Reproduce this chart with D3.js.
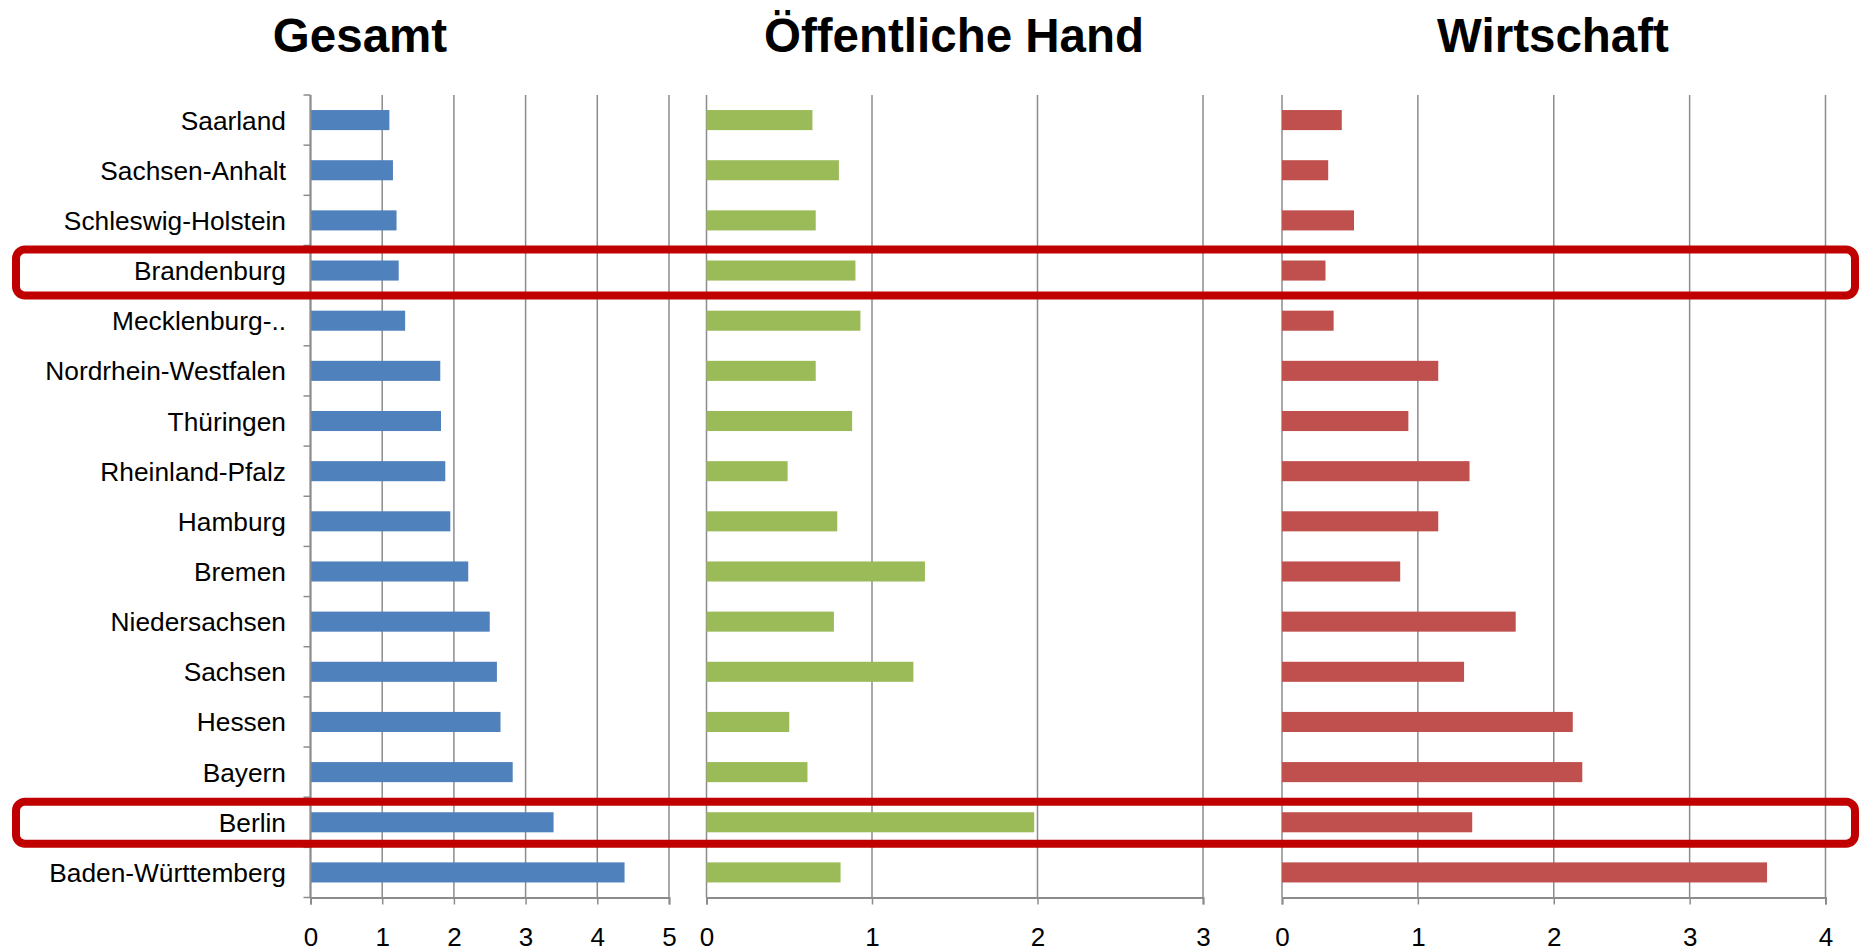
<!DOCTYPE html>
<html>
<head>
<meta charset="utf-8">
<script src="https://cdn.jsdelivr.net/npm/d3@7"></script>
<style>
  html, body { margin: 0; padding: 0; background: #ffffff; }
  svg { display: block; }
  text { font-family: "Liberation Sans", Arial, sans-serif; fill: #000; }
</style>
</head>
<body>
<svg id="chart" width="1859" height="951"></svg>
<script>
// ---- data ----
const categories = ["Saarland", "Sachsen-Anhalt", "Schleswig-Holstein", "Brandenburg", "Mecklenburg-..",
  "Nordrhein-Westfalen", "Thüringen", "Rheinland-Pfalz", "Hamburg", "Bremen", "Niedersachsen",
  "Sachsen", "Hessen", "Bayern", "Berlin", "Baden-Württemberg"];
const gesamtValues = [1.10, 1.15, 1.20, 1.23, 1.32, 1.81, 1.82, 1.88, 1.95, 2.20, 2.50, 2.60, 2.65, 2.82, 3.39, 4.38];
const oeffentlichValues = [0.64, 0.80, 0.66, 0.90, 0.93, 0.66, 0.88, 0.49, 0.79, 1.32, 0.77, 1.25, 0.50, 0.61, 1.98, 0.81];
const wirtschaftValues = [0.44, 0.34, 0.53, 0.32, 0.38, 1.15, 0.93, 1.38, 1.15, 0.87, 1.72, 1.34, 2.14, 2.21, 1.40, 3.57];
const panelTitles = ["Gesamt", "Öffentliche Hand", "Wirtschaft"];
const gesamtTicks = [0, 1, 2, 3, 4, 5];
const oeffentlichTicks = [0, 1, 2, 3];
const wirtschaftTicks = [0, 1, 2, 3, 4];
const highlighted = ["Brandenburg", "Berlin"];

// ---- layout ----
const svg = d3.select("#chart");
const plotTop = 95, plotBottom = 897.5;
const y = d3.scaleBand().domain(categories).range([plotTop, plotBottom]).padding(0);
const barFrac = 0.4;
const gridColor = "#8c8c8c";

const panels = [
  { title: panelTitles[0], values: gesamtValues, ticks: gesamtTicks, range: [310.5, 669], color: "#4F81BD", titleX: 360, catAxis: true },
  { title: panelTitles[1], values: oeffentlichValues, ticks: oeffentlichTicks, range: [706.5, 1203], color: "#9BBB59", titleX: 954 },
  { title: panelTitles[2], values: wirtschaftValues, ticks: wirtschaftTicks, range: [1282, 1825.5], color: "#C0504D", titleX: 1553 }
];

panels.forEach(p => {
  const x = d3.scaleLinear().domain([0, d3.max(p.ticks)]).range(p.range);
  const g = svg.append("g");

  // title
  g.append("text")
    .attr("x", p.titleX).attr("y", 52)
    .attr("text-anchor", "middle")
    .style("font-size", "47.5px").style("font-weight", "bold")
    .text(p.title);

  // gridlines
  g.append("g").selectAll("line").data(p.ticks).join("line")
    .attr("x1", d => x(d)).attr("x2", d => x(d))
    .attr("y1", plotTop).attr("y2", plotBottom)
    .attr("stroke", gridColor).attr("stroke-width", 1.5);

  // bars
  g.append("g").selectAll("rect").data(categories).join("rect")
    .attr("x", x(0))
    .attr("y", d => y(d) + y.bandwidth() * (1 - barFrac) / 2)
    .attr("height", y.bandwidth() * barFrac)
    .attr("width", (d, i) => x(p.values[i]) - x(0))
    .attr("fill", p.color);

  // x axis
  const axis = d3.axisBottom(x).tickValues(p.ticks).tickFormat(d3.format("d"))
    .tickSize(7).tickSizeOuter(7).tickPadding(23);
  const ax = g.append("g").attr("transform", `translate(0,${plotBottom})`).call(axis);
  ax.select(".domain").attr("stroke", gridColor).attr("stroke-width", 2);
  ax.selectAll(".tick line").attr("stroke", gridColor).attr("stroke-width", 1.5);
  ax.selectAll(".tick text")
    .style("font-size", "26px")
    .style("font-family", "'Liberation Sans', Arial, sans-serif")
    .attr("fill", "#000");

  if (p.catAxis) {
    g.append("line").attr("x1", x(0)).attr("x2", x(0)).attr("y1", plotTop).attr("y2", plotBottom)
      .attr("stroke", gridColor).attr("stroke-width", 2);
    const bounds = categories.map(c => y(c)).concat([plotBottom]);
    g.append("g").selectAll("line").data(bounds).join("line")
      .attr("x1", x(0) - 7).attr("x2", x(0))
      .attr("y1", d => d).attr("y2", d => d)
      .attr("stroke", gridColor).attr("stroke-width", 1.5);
    g.append("g").selectAll("text").data(categories).join("text")
      .attr("x", 286)
      .attr("y", d => y(d) + y.bandwidth() / 2 + 9.5)
      .attr("text-anchor", "end")
      .style("font-size", "26.3px")
      .text(d => d);
  }
});

// highlight boxes
const boxH = { "Brandenburg": 46, "Berlin": 42 };
const boxOffset = { "Brandenburg": 2, "Berlin": 0.5 };
svg.append("g").selectAll("rect").data(highlighted).join("rect")
  .attr("x", 16)
  .attr("width", 1855 - 16)
  .attr("y", d => y(d) + y.bandwidth() / 2 + boxOffset[d] - boxH[d] / 2)
  .attr("height", d => boxH[d])
  .attr("rx", 9).attr("ry", 9)
  .attr("fill", "none")
  .attr("stroke", "#C00000")
  .attr("stroke-width", 8);
</script>
</body>
</html>
